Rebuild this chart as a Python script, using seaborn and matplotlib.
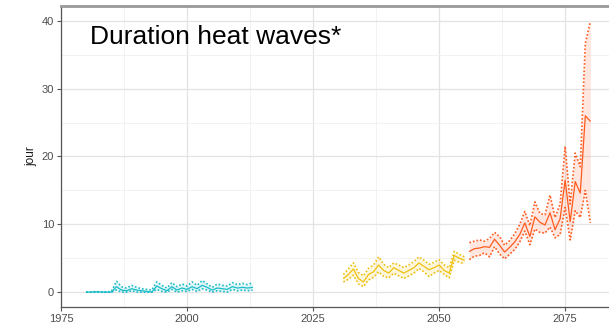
import numpy as np
import pandas as pd
import matplotlib
matplotlib.use("Agg")
import matplotlib.pyplot as plt
import seaborn as sns
from matplotlib.ticker import MultipleLocator

# Reference period 1980-2013
hist_years = list(range(1980, 2014))
hist_mean = [0.0, 0.0, 0.05, 0.0, 0.0, 0.0, 0.8, 0.3, 0.2, 0.5, 0.3, 0.2, 0.1, 0.0,
             0.9, 0.5, 0.2, 0.8, 0.3, 0.6, 0.4, 0.8, 0.5, 1.0, 0.7, 0.3, 0.6, 0.5,
             0.4, 0.8, 0.6, 0.7, 0.6, 0.7]
hist_high = [0.0, 0.0, 0.1, 0.0, 0.0, 0.1, 1.6, 0.8, 0.6, 1.0, 0.7, 0.5, 0.4, 0.3,
             1.5, 1.0, 0.6, 1.4, 0.8, 1.2, 0.9, 1.5, 1.0, 1.7, 1.2, 0.7, 1.2, 1.0,
             0.9, 1.4, 1.1, 1.3, 1.1, 1.4]
hist_low = [0.0, 0.0, 0.0, 0.0, 0.0, 0.0, 0.3, 0.0, 0.0, 0.2, 0.0, 0.0, 0.0, 0.0,
            0.4, 0.1, 0.0, 0.4, 0.0, 0.2, 0.1, 0.4, 0.1, 0.5, 0.3, 0.0, 0.2, 0.1,
            0.0, 0.4, 0.2, 0.3, 0.2, 0.3]

# Near future 2031-2055
mid_years = list(range(2031, 2056))
mid_mean = [2.0, 2.6, 3.4, 2.0, 1.5, 2.6, 3.0, 4.0, 3.2, 2.8, 3.6, 3.2, 2.8, 3.2,
            3.6, 4.3, 3.8, 3.3, 3.6, 4.0, 3.2, 2.8, 5.4, 5.0, 4.7]
mid_high = [2.6, 3.4, 4.3, 2.9, 2.4, 3.5, 4.0, 5.2, 4.1, 3.6, 4.3, 4.0, 3.6, 4.0,
            4.5, 5.2, 4.7, 4.1, 4.4, 4.8, 4.0, 3.6, 6.0, 5.6, 5.2]
mid_low = [1.5, 1.9, 2.5, 1.2, 0.8, 1.8, 2.2, 3.0, 2.3, 2.1, 2.8, 2.4, 2.0, 2.4,
           2.8, 3.5, 3.0, 2.3, 2.8, 3.2, 2.6, 2.1, 4.7, 4.4, 4.2]

# Far future 2056-2080
fut_years = list(range(2056, 2081))
fut_mean = [6.0, 6.4, 6.5, 6.7, 6.6, 7.8, 6.9, 5.9, 6.6, 7.4, 8.5, 10.2, 8.2, 11.1,
            10.3, 9.9, 11.7, 9.2, 10.8, 16.5, 10.4, 16.3, 14.6, 26.0, 25.2]
fut_high = [7.3, 7.5, 7.7, 7.5, 7.9, 8.8, 8.2, 6.9, 7.6, 8.6, 10.0, 11.9, 9.8, 13.3,
            11.6, 11.4, 14.3, 11.0, 13.0, 21.5, 13.0, 20.5, 18.5, 36.7, 39.9]
fut_low = [4.8, 5.3, 5.4, 5.8, 5.2, 6.7, 5.6, 4.9, 5.6, 6.3, 7.4, 9.0, 7.0, 9.3,
           8.8, 8.7, 9.6, 8.0, 8.5, 12.5, 7.7, 12.0, 11.0, 15.0, 10.2]

title = "Duration heat waves*"
y_label = "jour"
x_ticks = [1975, 2000, 2025, 2050, 2075]
y_ticks = [0, 10, 20, 30, 40]

periods = [
    (hist_years, hist_mean, hist_high, hist_low, "#1bbcc8"),
    (mid_years, mid_mean, mid_high, mid_low, "#f0c010"),
    (fut_years, fut_mean, fut_high, fut_low, "#ff5a1f"),
]

sns.set_theme(style="white")
plt.rcParams["font.family"] = ["Liberation Sans", "DejaVu Sans"]

fig = plt.figure(figsize=(6.09, 3.23), dpi=100)
ax = fig.add_axes([0.1002, 0.0495, 0.8998, 0.9320])

for years, mean, high, low, color in periods:
    df = pd.DataFrame({"year": years, "mean": mean, "high": high, "low": low})
    ax.fill_between(df["year"], df["low"], df["high"], color=color, alpha=0.14,
                    linewidth=0, zorder=2)
    sns.lineplot(data=df, x="year", y="mean", ax=ax, color=color, linewidth=0.9,
                 zorder=3)
    for col in ("high", "low"):
        sns.lineplot(data=df, x="year", y=col, ax=ax, color=color, linewidth=1.2,
                     linestyle=(0, (1, 1.2)), zorder=3)

ax.set_xlim(1975, 2083.7)
ax.set_ylim(-2.2, 42.2)
ax.set_xticks(x_ticks)
ax.set_yticks(y_ticks)
ax.xaxis.set_minor_locator(MultipleLocator(12.5))
ax.yaxis.set_minor_locator(MultipleLocator(5))
ax.grid(which="major", color="#e3e3e3", linewidth=0.9, zorder=0)
ax.grid(which="minor", color="#f0f0f0", linewidth=0.6, zorder=0)
ax.set_axisbelow(True)

ax.tick_params(axis="both", which="major", length=3, width=0.8, color="#555555",
               labelsize=8, labelcolor="#4d4d4d", pad=2)
ax.tick_params(which="minor", length=0)
ax.tick_params(axis="x", bottom=True)
ax.tick_params(axis="y", left=True)

ax.set_xlabel("")
ax.set_ylabel(y_label, fontsize=8.5, color="#1a1a1a", labelpad=3)

for side in ("left", "bottom"):
    ax.spines[side].set_color("#555555")
    ax.spines[side].set_linewidth(0.9)
ax.spines["top"].set_color("#999999")
ax.spines["top"].set_linewidth(2.0)
ax.spines["right"].set_visible(False)

ax.text(0.052, 0.897, title, transform=ax.transAxes, fontsize=19, color="black",
        ha="left", va="center")

fig.savefig("out.png", dpi=100)
